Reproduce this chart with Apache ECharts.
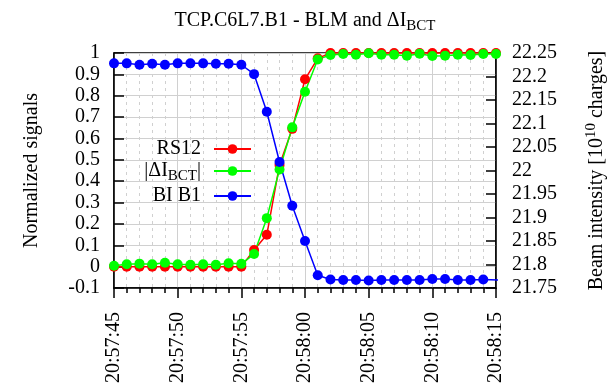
<!DOCTYPE html>
<html><head><meta charset="utf-8">
<script src="https://cdn.jsdelivr.net/npm/echarts@6/dist/echarts.min.js"></script>
<style>html,body{margin:0;padding:0;background:#fff}#c{width:610px;height:387px}</style>
</head><body><div id="c"></div>
<script>
// seconds after 20:57:45
const seconds = [0,1,2,3,4,5,6,7,8,9,10,11,12,13,14,15,16,17,18,19,20,21,22,23,24,25,26,27,28,29,30];
const rs12 = [0,0,0,0,0,0,0,0,0,0,0,0.078,0.149,0.476,0.645,0.877,0.975,1,1,1,1,1,1,1,1,1,1,1,1,1,1];
const dIbct = [0.004,0.011,0.014,0.011,0.018,0.011,0.009,0.011,0.009,0.016,0.013,0.059,0.227,0.455,0.652,0.819,0.970,0.991,0.995,0.992,0.999,0.992,0.992,0.987,0.997,0.986,0.987,0.992,0.991,0.995,0.995];
const blueSeconds = [0,1,2,3,4,5,6,7,8,9,10,11,12,13,14,15,16,17,18,19,20,21,22,23,24,25,26,27,28,29,30.5];
const biB1 = [22.228,22.228,22.225,22.227,22.225,22.228,22.228,22.228,22.227,22.227,22.225,22.205,22.125,22.018,21.925,21.850,21.777,21.768,21.767,21.767,21.766,21.767,21.767,21.767,21.767,21.769,21.769,21.767,21.767,21.768,21.767];
const timeTickLabels = ['20:57:45','20:57:50','20:57:55','20:58:00','20:58:05','20:58:10','20:58:15'];
const leftTickLabels = ['-0.1','0','0.1','0.2','0.3','0.4','0.5','0.6','0.7','0.8','0.9','1'];
const rightTickLabels = ['21.75','21.8','21.85','21.9','21.95','22','22.05','22.1','22.15','22.2','22.25'];
const seriesNames = ['RS12','dIBCT','BI B1'];
const legendTexts = ['RS12','|ΔI{sub|BCT}|','BI B1'];
const colors = ['#ff0000','#00ff00','#0000ff'];

const FONT = 'Liberation Serif';
const zip = (xs, ys) => xs.map((x, i) => [x, ys[i]]);
const chart = echarts.init(document.getElementById('c'), null, {renderer: 'canvas'});
const axisLineStyle = {color: '#000', width: 1.5};
const gridLine = {color: '#d0d0d0', width: 1};

chart.setOption({
  animation: false,
  backgroundColor: '#fff',
  title: {
    text: 'TCP.C6L7.B1 - BLM and ΔI{sub|BCT}',
    left: 'center', top: 3,
    textStyle: {
      fontFamily: FONT, fontSize: 20, fontWeight: 'normal', color: '#000',
      rich: {sub: {fontFamily: FONT, fontSize: 15, verticalAlign: 'top', padding: [11, 0, 0, 0], color: '#000'}}
    }
  },
  grid: {left: 114, right: 114, top: 53, bottom: 99, show: true, borderColor: '#000', borderWidth: 1.5, outerBoundsMode: 'none'},
  legend: {
    data: seriesNames,
    orient: 'vertical', align: 'right', right: 358, top: 139, padding: 0,
    itemWidth: 37, itemHeight: 12, itemGap: 2,
    formatter: name => legendTexts[seriesNames.indexOf(name)],
    textStyle: {
      fontFamily: FONT, fontSize: 20, color: '#000', padding: [0, 8, 0, 0],
      rich: {sub: {fontFamily: FONT, fontSize: 15, verticalAlign: 'top', padding: [11, 0, 0, 0], color: '#000'}}
    }
  },
  xAxis: {
    type: 'value', min: 0, max: 30, interval: 5,
    axisLine: {show: true, onZero: false, lineStyle: axisLineStyle},
    axisTick: {show: true, length: 10, lineStyle: axisLineStyle},
    minorTick: {show: true, splitNumber: 5, length: 5, lineStyle: axisLineStyle},
    splitLine: {show: true, lineStyle: gridLine},
    minorSplitLine: {show: true, lineStyle: {color: '#d0d0d0', width: 1, type: [3, 4]}},
    axisLabel: {
      rotate: 90, margin: 24, fontFamily: FONT, fontSize: 20, color: '#000',
      formatter: v => timeTickLabels[Math.round(v / 5)]
    }
  },
  yAxis: [
    {
      type: 'value', min: -0.1, max: 1, interval: 0.1, position: 'left',
      name: 'Normalized signals', nameLocation: 'middle', nameRotate: 90, nameGap: 72,
      nameTextStyle: {fontFamily: FONT, fontSize: 20, color: '#000'},
      axisLine: {show: true, onZero: false, lineStyle: axisLineStyle},
      axisTick: {show: true, inside: true, length: 10, lineStyle: axisLineStyle},
      splitLine: {show: true, lineStyle: gridLine},
      axisLabel: {
        margin: 14, fontFamily: FONT, fontSize: 20, color: '#000',
        formatter: v => leftTickLabels[Math.round((v + 0.1) / 0.1)]
      }
    },
    {
      type: 'value', min: 21.75, max: 22.25, interval: 0.05, position: 'right',
      name: 'Beam intensity [10{sup|10} charges]', nameLocation: 'middle', nameRotate: 90, nameGap: 88,
      nameTextStyle: {
        fontFamily: FONT, fontSize: 20, color: '#000',
        rich: {sup: {fontFamily: FONT, fontSize: 15, verticalAlign: 'bottom', padding: [0, 0, 10, 0], color: '#000'}}
      },
      axisLine: {show: true, onZero: false, lineStyle: axisLineStyle},
      axisTick: {show: true, inside: true, length: 10, lineStyle: axisLineStyle},
      splitLine: {show: false},
      axisLabel: {
        margin: 16, fontFamily: FONT, fontSize: 20, color: '#000',
        formatter: v => rightTickLabels[Math.round((v - 21.75) / 0.05)]
      }
    }
  ],
  series: [
    {name: seriesNames[0], type: 'line', yAxisIndex: 0, data: zip(seconds, rs12), clip: false,
     symbol: 'circle', symbolSize: 10, itemStyle: {color: colors[0]}, lineStyle: {color: colors[0], width: 1.5}},
    {name: seriesNames[1], type: 'line', yAxisIndex: 0, data: zip(seconds, dIbct), clip: false,
     symbol: 'circle', symbolSize: 10, itemStyle: {color: colors[1]}, lineStyle: {color: colors[1], width: 1.5}},
    {name: seriesNames[2], type: 'line', yAxisIndex: 1, data: zip(blueSeconds, biB1), clip: true,
     symbol: 'circle', symbolSize: 10, itemStyle: {color: colors[2]}, lineStyle: {color: colors[2], width: 1.5}}
  ]
});
</script></body></html>
